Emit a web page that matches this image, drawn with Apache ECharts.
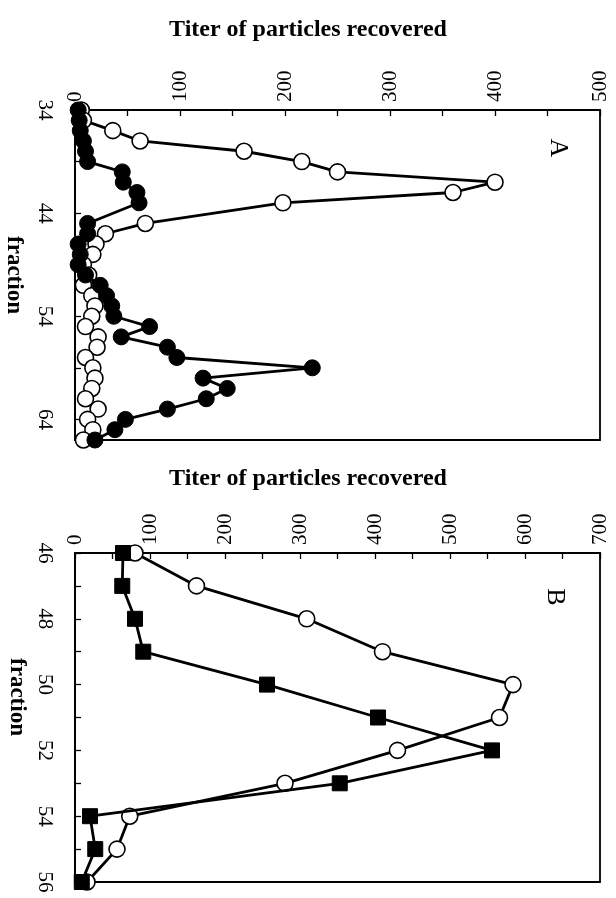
<!DOCTYPE html>
<html>
<head>
<meta charset="utf-8">
<script src="https://cdn.jsdelivr.net/npm/echarts@6/dist/echarts.min.js"></script>
<style>
html,body{margin:0;padding:0;background:#fff;}
#chart{width:616px;height:898px;}
</style>
</head>
<body>
<div id="chart"></div>
<script>
// Panel A data
var fractionsA = [34,35,36,37,38,39,40,41,42,43,45,46,47,48,49,50,51,52,53,54,55,56,57,58,59,60,61,62,63,64,65,66];
var openA   = [6,8,36,62,161,216,250,400,360,198,67,29,20,17,8,13,8,16,19,16,10,22,21,10,17,19,16,10,22,12,17,8];
var filledA = [3,4,5,8,10,12,45,46,59,61,12,12,3,5,3,10,24,30,35,37,71,44,88,97,226,122,145,125,88,48,38,19];
// Panel B data
var fractionsB = [46,47,48,49,50,51,52,53,54,55,56];
var openB   = [80,162,309,410,584,566,430,280,73,56,16];
var squareB = [64,63,80,91,256,404,556,353,20,27,9];

var titerTitle = 'Titer of particles recovered';
var fracTitle = 'fraction';

function pairs(f, v){ return f.map(function(x,i){ return [v[i], x]; }); }

var serif = '"Liberation Serif","Times New Roman",serif';
var chart = echarts.init(document.getElementById('chart'));

function xAx(grid, max){
  return {
    type:'value', gridIndex:grid, position:'top', min:0, max:max, interval:100,
    axisLine:{show:true, lineStyle:{color:'#000', width:1.8}},
    axisTick:{show:true, inside:true, length:6, lineStyle:{color:'#000', width:1.3}},
    minorTick:{show:true, splitNumber:2, length:6, lineStyle:{color:'#000', width:1.3}},
    splitLine:{show:false},
    axisLabel:{rotate:-90, margin:8, color:'#000', fontSize:21, fontFamily:serif}
  };
}
function yAx(grid, min, max, interval, split, fmt){
  return {
    type:'value', gridIndex:grid, inverse:true, min:min, max:max, interval:interval,
    axisLine:{show:true, lineStyle:{color:'#000', width:1.8}},
    axisTick:{show:true, inside:true, length:6, lineStyle:{color:'#000', width:1.3}},
    minorTick:{show:true, splitNumber:split, length:6, lineStyle:{color:'#000', width:1.3}},
    splitLine:{show:false},
    axisLabel:{rotate:-90, margin:20, color:'#000', fontSize:21, fontFamily:serif, formatter:fmt}
  };
}

var openStyle = {color:'#fff', borderColor:'#000', borderWidth:1.6};
var fillStyle = {color:'#000', borderColor:'#000', borderWidth:1};
var lineSt = {color:'#000', width:2.8};

chart.setOption({
  animation:false,
  grid:[
    {left:75, top:110, width:525, height:330, show:true, borderColor:'#000', borderWidth:1.8, backgroundColor:'transparent'},
    {left:75, top:553, width:525, height:329, show:true, borderColor:'#000', borderWidth:1.8, backgroundColor:'transparent'}
  ],
  xAxis:[ xAx(0,500), xAx(1,700) ],
  yAxis:[
    yAx(0,34,66,10,2,function(v){ return ((v-34)%10===0) ? String(v) : ''; }),
    yAx(1,46,56,2,2,function(v){ return String(v); })
  ],
  series:[
    {type:'line', xAxisIndex:0, yAxisIndex:0, data:pairs(fractionsA, openA), symbol:'circle', symbolSize:16,
     itemStyle:openStyle, lineStyle:lineSt, z:2},
    {type:'line', xAxisIndex:0, yAxisIndex:0, data:pairs(fractionsA, filledA), symbol:'circle', symbolSize:16,
     itemStyle:fillStyle, lineStyle:lineSt, z:3},
    {type:'line', xAxisIndex:1, yAxisIndex:1, data:pairs(fractionsB, openB), symbol:'circle', symbolSize:16,
     itemStyle:openStyle, lineStyle:lineSt, z:2},
    {type:'line', xAxisIndex:1, yAxisIndex:1, data:pairs(fractionsB, squareB), symbol:'rect', symbolSize:15,
     itemStyle:fillStyle, lineStyle:lineSt, z:3}
  ],
  graphic:[
    {type:'text', x:308, y:30, style:{text:titerTitle, font:'bold 24px '+serif, fill:'#000', align:'center', verticalAlign:'middle'}},
    {type:'text', x:308, y:479, style:{text:titerTitle, font:'bold 24px '+serif, fill:'#000', align:'center', verticalAlign:'middle'}},
    {type:'text', x:14, y:275, rotation:-Math.PI/2, style:{text:fracTitle, font:'bold 23px '+serif, fill:'#000', align:'center', verticalAlign:'middle'}},
    {type:'text', x:17, y:697, rotation:-Math.PI/2, style:{text:fracTitle, font:'bold 23px '+serif, fill:'#000', align:'center', verticalAlign:'middle'}},
    {type:'text', x:558, y:148, rotation:-Math.PI/2, style:{text:'A', font:'26px '+serif, fill:'#000', align:'center', verticalAlign:'middle'}},
    {type:'text', x:555, y:597, rotation:-Math.PI/2, style:{text:'B', font:'26px '+serif, fill:'#000', align:'center', verticalAlign:'middle'}}
  ]
});
</script>
</body>
</html>
